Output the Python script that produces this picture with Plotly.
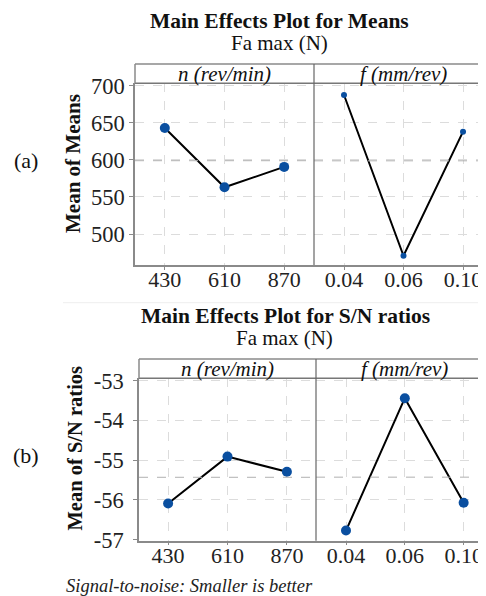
import plotly.graph_objects as go

# ---- data ----
speed_levels = ["430", "610", "870"]
feed_levels = ["0.04", "0.06", "0.10"]
means_speed = [643, 563, 590.5]
means_feed = [687.4, 470.7, 638]
sn_speed = [-56.09, -54.91, -55.29]
sn_feed = [-56.77, -53.44, -56.07]
mean_ticks = [500, 550, 600, 650, 700]
sn_ticks = [-57, -56, -55, -54, -53]

OFF = 8  # browser body margin
W, H = 486 - OFF, 596 - OFF
FONT = "Liberation Serif"
BLUE = "#0A4FA0"
AXC = "#8a8a8a"
GRID = "#dcdcdc"

def px(x):
    return (x - OFF) / W

def py(y):
    return 1 - (y - OFF) / H

fig = go.Figure()

panels = [
    ("x", "y", (135, 314), (83.3, 265), [-0.5, 2.5], [458.2, 703.2], speed_levels, means_speed, 10, mean_ticks, True, 0),
    ("x2", "y2", (314, 486), (83.3, 265), [-0.504, 2.386], [458.2, 703.2], feed_levels, means_feed, 6, mean_ticks, False, 0),
    ("x3", "y3", (139, 316), (378.3, 540.7), [-0.49, 2.49], [-57.025, -52.94], speed_levels, sn_speed, 10, sn_ticks, True, 5),
    ("x4", "y4", (316, 486), (378.3, 540.7), [-0.51, 2.38], [-57.025, -52.94], feed_levels, sn_feed, 10, sn_ticks, False, 0),
]

for i, (xa, ya, xd, yd, xr, yr, cats, vals, ms, yt, showy, ystand) in enumerate(panels):
    fig.add_trace(go.Scatter(
        x=list(range(len(cats))), y=vals, xaxis=xa, yaxis=ya,
        mode="lines+markers",
        line=dict(color="black", width=2),
        marker=dict(color=BLUE, size=ms),
        showlegend=False, hoverinfo="skip", cliponaxis=False))
    xkey = "xaxis" if xa == "x" else "xaxis" + xa[1:]
    ykey = "yaxis" if ya == "y" else "yaxis" + ya[1:]
    fig.layout[xkey] = dict(
        domain=[px(xd[0]), min(1, px(xd[1]))], anchor=ya, range=xr, automargin=False,
        tickmode="array", tickvals=list(range(len(cats))), ticktext=cats,
        showgrid=True, gridcolor=GRID, griddash="dash", gridwidth=1,
        zeroline=False, showline=True, linecolor=AXC, linewidth=1.5,
        ticks="outside", ticklen=3, tickcolor=AXC, ticklabelstandoff=-9,
        tickfont=dict(family=FONT, size=22, color="#222"), fixedrange=True)
    fig.layout[ykey] = dict(
        domain=[py(yd[1]), py(yd[0])], anchor=xa, range=yr, automargin=False,
        tickmode="array", tickvals=yt, ticktext=[str(t) for t in yt],
        showticklabels=showy,
        showgrid=True, gridcolor=GRID, griddash="dash", gridwidth=1,
        zeroline=False, showline=showy, linecolor=AXC, linewidth=1.5,
        ticks="outside" if showy else "", ticklen=4, tickcolor=AXC,
        ticklabelstandoff=ystand,
        tickfont=dict(family=FONT, size=22.5, color="#222"), fixedrange=True)
    m = sum(vals) / len(vals)
    fig.add_shape(type="line", xref=xa + " domain", yref=ya, x0=0, x1=1, y0=m, y1=m,
                  line=dict(color="#b0b0b0", width=1, dash="dash"))

for (left, top, bot, div, axis_bottom) in [
        (135, 64, 83.3, 314, 265), (139, 359, 378.3, 316, 540.7)]:
    fig.add_shape(type="line", xref="paper", yref="paper", x0=px(left), x1=1,
                  y0=py(top), y1=py(top), line=dict(color=AXC, width=1.5))
    fig.add_shape(type="line", xref="paper", yref="paper", x0=px(left), x1=1,
                  y0=py(bot), y1=py(bot), line=dict(color="#777", width=1.5))
    fig.add_shape(type="line", xref="paper", yref="paper", x0=px(left), x1=px(left),
                  y0=py(top), y1=py(bot), line=dict(color=AXC, width=1.5))
    fig.add_shape(type="line", xref="paper", yref="paper", x0=px(div), x1=px(div),
                  y0=py(top), y1=py(axis_bottom), line=dict(color="#666", width=1.2))

fig.add_shape(type="line", xref="paper", yref="paper", x0=px(63), x1=1,
              y0=py(302.7), y1=py(302.7), line=dict(color="#eeeeee", width=1))

anns = [
    dict(text="<b>Main Effects Plot for Means</b>", x=279, y=21, size=21.5),
    dict(text="Fa max (N)", x=279, y=43, size=21),
    dict(text="<b>Main Effects Plot for S/N ratios</b>", x=285, y=316, size=21.5),
    dict(text="Fa max (N)", x=284, y=338, size=21),
    dict(text="<i>n (rev/min)</i>", x=224.5, y=74, size=21),
    dict(text="<i>f (mm/rev)</i>", x=403, y=74, size=21),
    dict(text="<i>n (rev/min)</i>", x=227.5, y=369, size=21),
    dict(text="<i>f (mm/rev)</i>", x=404.5, y=369, size=21),
    dict(text="(a)", x=26, y=160, size=22),
    dict(text="(b)", x=26, y=455, size=22),
]
for a in anns:
    fig.add_annotation(text=a["text"], x=px(a["x"]), y=py(a["y"]), xref="paper", yref="paper",
                       xanchor="center", yanchor="middle", showarrow=False,
                       font=dict(family=FONT, size=a["size"], color="#111"))

fig.add_annotation(text="<b>Mean of Means</b>", x=px(73), y=py(164), xref="paper", yref="paper",
                   textangle=-90, showarrow=False, xanchor="center", yanchor="middle",
                   font=dict(family=FONT, size=21, color="#111"))
fig.add_annotation(text="<b>Mean of S/N ratios</b>", x=px(74), y=py(448.5), xref="paper", yref="paper",
                   textangle=-90, showarrow=False, xanchor="center", yanchor="middle",
                   font=dict(family=FONT, size=20.5, color="#111"))
fig.add_annotation(text="<i>Signal-to-noise: Smaller is better</i>", x=px(64), y=py(586),
                   xref="paper", yref="paper", xanchor="left", yanchor="middle", showarrow=False,
                   font=dict(family=FONT, size=18.5, color="#222"))

fig.update_layout(width=W, height=H, margin=dict(l=0, r=0, t=0, b=0, autoexpand=False),
                  paper_bgcolor="white", plot_bgcolor="white", showlegend=False)

fig.write_html("out.html",
               post_script="document.documentElement.style.overflow='hidden';"
                           "document.body.style.overflow='hidden';")
